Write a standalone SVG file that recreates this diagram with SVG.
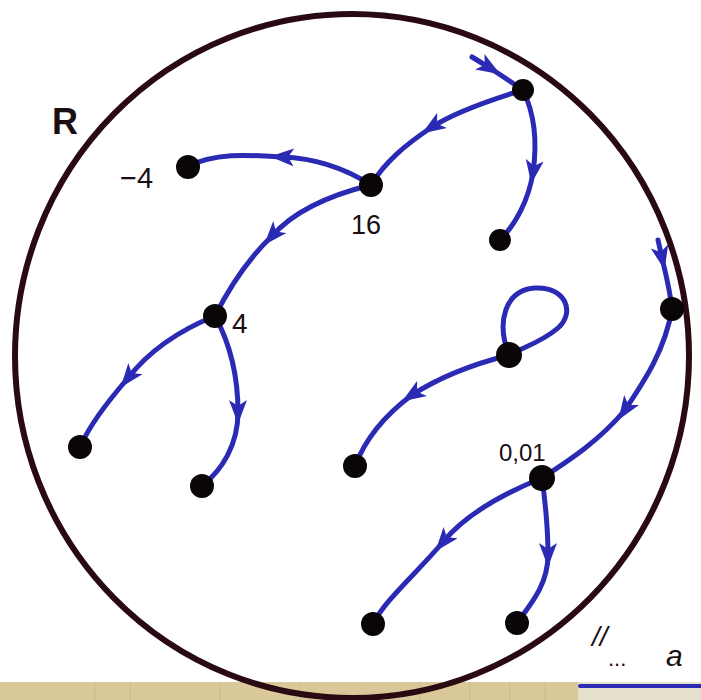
<svg xmlns="http://www.w3.org/2000/svg" width="701" height="700" viewBox="0 0 701 700">
<defs>
<style>
.e{fill:none;stroke:#2a2ab4;stroke-width:5;stroke-linecap:round}
.a{fill:none;stroke:#2a2ab4;stroke-width:5;stroke-linecap:round;marker-end:url(#ah)}
.n{fill:#0a0608}
.t{font-family:"Liberation Sans",Arial,sans-serif;fill:#1a0e12}
</style>
<marker id="ah" viewBox="0 0 24 18" refX="12" refY="9" markerWidth="24" markerHeight="18" markerUnits="userSpaceOnUse" orient="auto">
<path d="M0,0 L24,9 L0,18 L6,9 Z" fill="#2a2ab4"/>
</marker>
</defs>
<rect width="701" height="700" fill="#ffffff"/>
<g id="paper">
<rect x="0" y="682" width="578" height="18" fill="#d9c99a"/>
<rect x="578" y="682" width="123" height="18" fill="#e6e1cc"/>
<g stroke="#c2b07e" stroke-width="1" opacity="0.6">
<line x1="95" y1="682" x2="95" y2="700"/><line x1="130" y1="682" x2="130" y2="700"/><line x1="220" y1="682" x2="220" y2="700"/><line x1="300" y1="682" x2="300" y2="700"/><line x1="420" y1="682" x2="420" y2="700"/><line x1="470" y1="682" x2="470" y2="700"/><line x1="510" y1="682" x2="510" y2="700"/><line x1="545" y1="682" x2="545" y2="700"/>
</g>
<line x1="580" y1="686" x2="701" y2="686" stroke="#2a2ab4" stroke-width="4" stroke-linecap="round"/>
</g>
<ellipse id="region" cx="352" cy="356" rx="337" ry="342" fill="none" stroke="#2a0a12" stroke-width="6"/>
<g id="connectors">
<path class="a" d="M472,57 L490,68"/><path class="e" d="M490,68 L523,90"/>
<path class="a" d="M523,90 C490,100 455,112 432,127"/><path class="e" d="M432,127 C405,145 385,162 371,185"/>
<path class="a" d="M523,90 C535,115 537,145 533,172"/><path class="e" d="M533,172 C529,200 515,225 500,240"/>
<path class="a" d="M371,185 C340,165 310,158 282,157"/><path class="e" d="M282,157 C250,155 215,152 187,167"/>
<path class="a" d="M371,185 C330,195 295,210 272,236"/><path class="e" d="M272,236 C245,262 228,290 215,316"/>
<path class="a" d="M215,316 C180,330 150,350 128,378"/><path class="e" d="M128,378 C105,405 90,425 80,447"/>
<path class="a" d="M215,316 C228,340 238,370 238,412"/><path class="e" d="M238,412 C238,445 222,470 202,486"/>
<path class="a" d="M658,240 L662,258"/><path class="e" d="M662,258 C666,275 670,290 672,309"/>
<path class="a" d="M672,309 C665,350 645,380 625,410"/><path class="e" d="M625,410 C600,440 570,460 542,478"/>
<path class="e" d="M509,355 C496,322 505,290 535,288 C565,286 576,312 558,328 C542,342 522,348 509,355"/>
<path class="a" d="M509,355 C470,365 435,380 412,395"/><path class="e" d="M412,395 C385,415 365,440 355,466"/>
<path class="a" d="M542,478 C500,495 465,515 443,542"/><path class="e" d="M443,542 C415,575 385,600 373,624"/>
<path class="a" d="M542,478 C545,500 548,525 548,555"/><path class="e" d="M548,555 C548,585 530,605 517,623"/>
</g>
<g id="nA"><circle class="n" cx="523" cy="90" r="11"/></g>
<g id="nB"><circle class="n" cx="371" cy="185" r="12"/><text class="t" x="351" y="234" font-size="27">16</text></g>
<g id="nC"><circle class="n" cx="188" cy="167" r="12"/><text class="t" x="120" y="188" font-size="29">−4</text></g>
<g id="nE"><circle class="n" cx="215" cy="316" r="12"/><text class="t" x="232" y="333" font-size="28">4</text></g>
<g id="nD"><circle class="n" cx="500" cy="240" r="11"/></g>
<g id="nF"><circle class="n" cx="80" cy="447" r="12"/></g>
<g id="nG"><circle class="n" cx="202" cy="486" r="12"/></g>
<g id="nH"><circle class="n" cx="672" cy="309" r="12"/></g>
<g id="nI"><circle class="n" cx="509" cy="355" r="13"/></g>
<g id="nJ"><circle class="n" cx="355" cy="466" r="12"/></g>
<g id="nK"><circle class="n" cx="542" cy="478" r="13"/><text class="t" x="499" y="461" font-size="24">0,01</text></g>
<g id="nL"><circle class="n" cx="373" cy="624" r="12"/></g>
<g id="nM"><circle class="n" cx="517" cy="623" r="12"/></g>
<text class="t" x="52" y="134" font-size="36" font-weight="bold">R</text>
<text class="t" x="592" y="646" font-size="28" font-style="italic">//</text>
<text class="t" x="608" y="666" font-size="22">...</text>
<text class="t" x="666" y="666" font-size="30" font-style="italic">a</text>
</svg>
